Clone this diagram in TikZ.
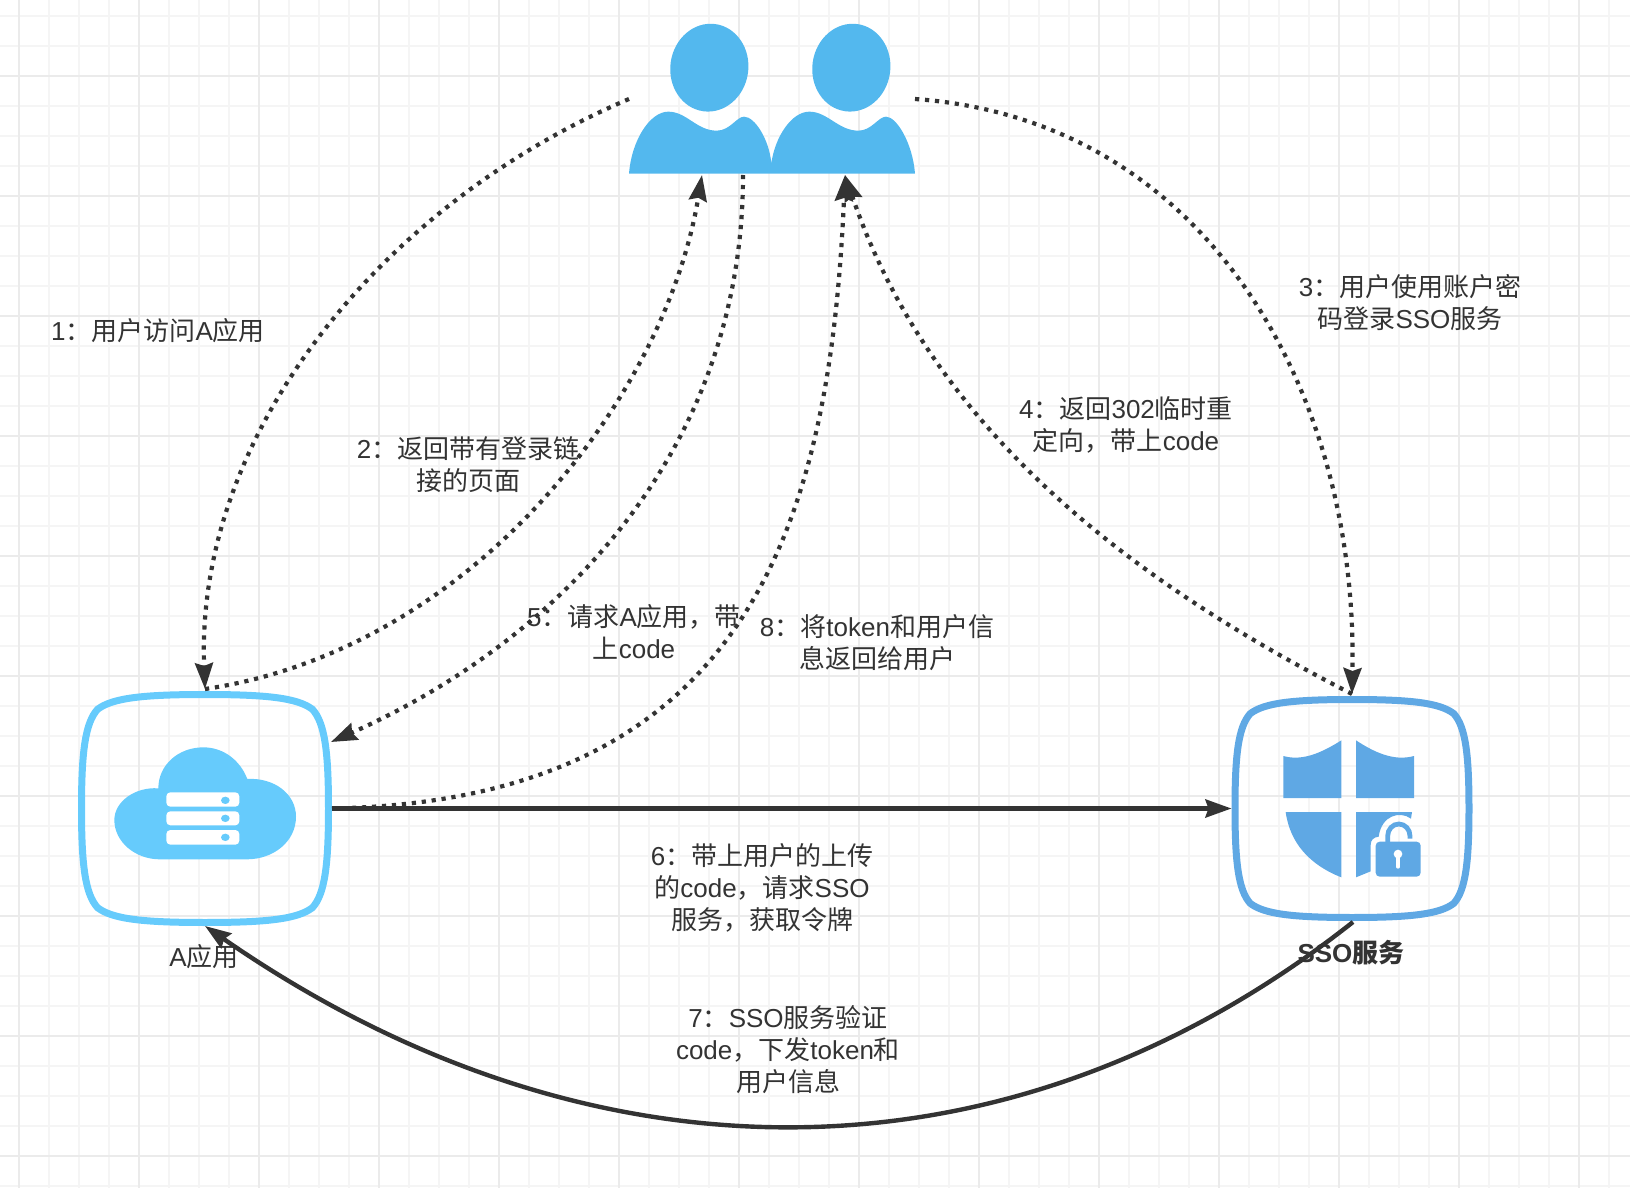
\documentclass[tikz,border=0pt]{standalone}
\usepackage{fontspec}
\setmainfont{Liberation Sans}
\newfontfamily\cjk{Noto Sans CJK SC}
\newcommand{\zh}[1]{{\cjk #1}}
\usetikzlibrary{arrows.meta,calc,positioning}
\definecolor{gridminor}{HTML}{F5F5F5}
\definecolor{gridmajor}{HTML}{EBEBEB}
\definecolor{usercol}{HTML}{53B8EE}
\definecolor{appcol}{HTML}{66CBFC}
\definecolor{ssocol}{HTML}{5FA8E4}
\definecolor{inkcol}{HTML}{333333}
\tikzset{
  holder/.style={inner sep=0pt,outer sep=0pt},
  dotline/.style={draw=inkcol,line width=2.1pt,dash pattern=on 2.1pt off 2.9pt,->},
  solidline/.style={draw=inkcol,line width=2.2pt,->},
  lbl/.style={text=inkcol,align=center,font=\fontsize{13}{16}\selectfont,inner sep=0pt},
  crop/.style n args={2}{shift={(#1,#2)},x=0.16667pt,y=-0.16667pt},
}
% outline of an icon box: node name, colour, half width, half height
\newcommand{\iconbox}[4]{
  \begin{scope}[shift={(#1.center)},x=#3,y=#4]
    \draw[#2,line width=3.5pt] (0,1) .. controls (.5,1) and (.75,.97) .. (.87,.87)
      .. controls (.97,.75) and (1,.5) .. (1,0) .. controls (1,-.5) and (.97,-.75) .. (.87,-.87)
      .. controls (.75,-.97) and (.5,-1) .. (0,-1) .. controls (-.5,-1) and (-.75,-.97) .. (-.87,-.87)
      .. controls (-.97,-.75) and (-1,-.5) .. (-1,0) .. controls (-1,.5) and (-.97,.75) .. (-.87,.87)
      .. controls (-.75,.97) and (-.5,1) .. (0,1) -- cycle;
  \end{scope}
}
\begin{document}
\begin{tikzpicture}
[x=0.5pt,y=-0.5pt,>={Stealth[length=13pt,width=9pt,inset=1.5pt]}]
\useasboundingbox (0,0) rectangle (1630,1188);

%Background grid
\foreach \x in {19,49,...,1630} \draw[gridminor,line width=1pt] (\x,0) -- (\x,1188);
\foreach \y in {16,46,...,1188} \draw[gridminor,line width=1pt] (0,\y) -- (1630,\y);
\foreach \x in {19,139,...,1630} \draw[gridmajor,line width=1pt] (\x,0) -- (\x,1188);
\foreach \y in {76,196,...,1188} \draw[gridmajor,line width=1pt] (0,\y) -- (1630,\y);

%Holders for the three icons
\node (users) at (772,99)[holder,minimum width=143pt,minimum height=75pt] {};
\node (appbox) at (205,808.5)[holder,minimum width=127pt,minimum height=117.5pt] {};
\node (ssobox) at (1352,808.5)[holder,minimum width=120.5pt,minimum height=112.5pt] {};

%Drawing the users
\begin{scope}[crop={600}{0}]
  \fill[usercol,rotate around={-8:(328,203)}] (328,203) ellipse (117 and 132);
  \fill[usercol,rotate around={-8:(754,203)}] (754,203) ellipse (117 and 132);
  \fill[usercol] (87,521) .. controls (95,420) and (150,335) .. (205,335)
    .. controls (260,335) and (290,392) .. (350,392) .. controls (390,392) and (410,350) .. (432,350)
    .. controls (465,350) and (508,420) .. (514,490)
    .. controls (525,410) and (575,335) .. (628,335)
    .. controls (683,335) and (715,392) .. (775,392) .. controls (815,392) and (835,350) .. (858,350)
    .. controls (890,350) and (938,430) .. (945,521) -- cycle;
\end{scope}

%Drawing the boxes
\iconbox{appbox}{appcol}{61.75pt}{57pt}
\iconbox{ssobox}{ssocol}{58.5pt}{54.5pt}

%Cloud
\begin{scope}[crop={60}{670}]
  \fill[appcol] (295,355) .. controls (295,285) and (355,232) .. (430,232)
    .. controls (490,232) and (540,270) .. (562,327) .. controls (640,322) and (708,370) .. (708,440)
    .. controls (708,515) and (640,568) .. (560,568) -- (300,568)
    .. controls (225,568) and (163,515) .. (163,450) .. controls (163,395) and (225,350) .. (295,355) -- cycle;
  \foreach \a/\b/\c in {367/410/391,424/466/445,480/524/502}{
    \fill[white,rounded corners=2pt] (319,\a) rectangle (538,\b);
    \fill[appcol] (496,\c) ellipse (13 and 11);
  }
\end{scope}

%Shield with lock
\begin{scope}[crop={1210}{680}]
  \fill[ssocol] (220,228) .. controls (280,245) and (340,215) .. (394,181) -- (394,354) -- (220,354) -- cycle;
  \fill[ssocol] (438,181) .. controls (490,215) and (550,245) .. (612,228) -- (612,354) -- (438,354) -- cycle;
  \fill[ssocol] (227,396) -- (394,396) -- (394,592) .. controls (300,555) and (240,490) .. (227,396) -- cycle;
  \fill[ssocol] (438,396) -- (606,396) -- (603,416) .. controls (570,392) and (515,405) .. (506,470)
    .. controls (490,472) and (482,480) .. (482,495) -- (482,574) -- (438,592) -- cycle;
  \fill[ssocol,rounded corners=2pt] (497,485) rectangle (632,590);
  \draw[ssocol,line width=2.4pt] (533,490) -- (533,468) arc[start angle=180,end angle=360,x radius=33.5,y radius=36] -- (600,476);
  \fill[white] (564,522) ellipse (13 and 13);
  \draw[white,line width=2pt,line cap=round] (564,525) -- (564,560);
\end{scope}

%Named ends on the connectors
\coordinate (apptop) at (205,689);
\coordinate (appin) at (331,742);
\coordinate (ssotop) at (1352,694);
\coordinate (ssoout) at (1353,922);
\coordinate (userL) at (702,175);
\coordinate (userM) at (743,175);
\coordinate (userR) at (845,175);

%Dotted connectors
\draw[dotline] (users.west) .. controls (380,205) and (195,435) .. (apptop);
\draw[dotline] (apptop) .. controls (470,650) and (665,400) .. (userL);
\draw[dotline] (userM) .. controls (743,450) and (560,640) .. (appin);
\draw[dotline] (appbox.east) .. controls (745,800) and (830,530) .. (userR);
\draw[dotline] (users.east) .. controls (1210,120) and (1358,395) .. (ssotop);
\draw[dotline] (ssotop) .. controls (1100,565) and (925,410) .. (userR);

%Solid connectors
\draw[solidline] (appbox.east) -- (ssobox.west);
\draw[solidline] (ssoout) .. controls (1010,1193) and (590,1193) .. (appbox.south);

%Labels
\node (lblone) at (158,331)[lbl] {1\zh{：用户访问}A\zh{应用}};
\node (lbltwo) at (468,465)[lbl] {2\zh{：返回带有登录链}\\\zh{接的页面}};
\node (lblthree) at (1410,303)[lbl] {3\zh{：用户使用账户密}\\\zh{码登录}SSO\zh{服务}};
\node (lblfour) at (1126,425)[lbl] {4\zh{：返回}302\zh{临时重}\\\zh{定向，带上}code};
\node (lblfive) at (634,632)[lbl] {5\zh{：请求}A\zh{应用，带}\\\zh{上}code};
\node (lblsix) at (762,888)[lbl] {6\zh{：带上用户的上传}\\\zh{的}code\zh{，请求}SSO\\\zh{服务，获取令牌}};
\node (lblseven) at (788,1050)[lbl] {7\zh{：}SSO\zh{服务验证}\\code\zh{，下发}token\zh{和}\\\zh{用户信息}};
\node (lbleight) at (877,643)[lbl] {8\zh{：将}token\zh{和用户信}\\\zh{息返回给用户}};
\node (lblapp) at (204,957)[lbl] {A\zh{应用}};
\node (lblsso) at (1351,953)[lbl] {\bfseries SSO\zh{服务}};
\end{tikzpicture}
\end{document}
